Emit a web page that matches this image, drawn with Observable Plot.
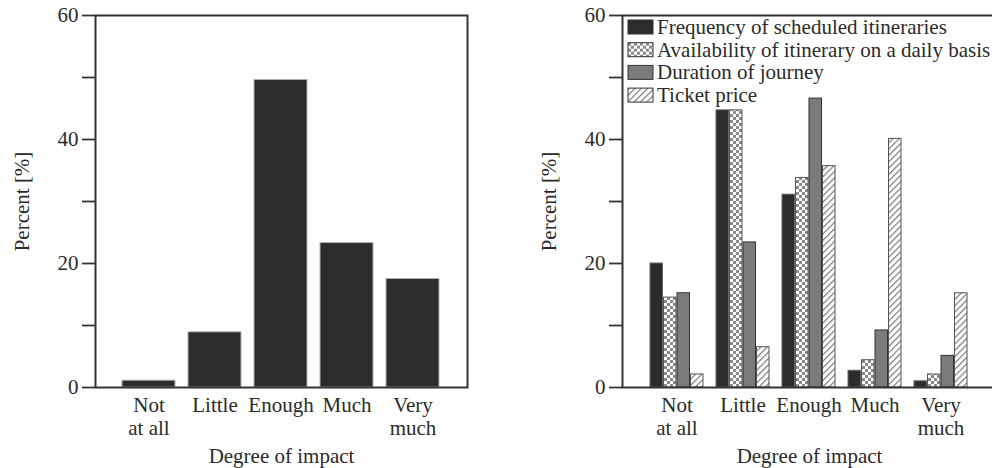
<!DOCTYPE html>
<html><head><meta charset="utf-8">
<script src="https://cdn.jsdelivr.net/npm/d3@7"></script>
<script src="https://cdn.jsdelivr.net/npm/@observablehq/plot@0.6"></script>
<style>
html,body{margin:0;padding:0;background:#fff;overflow:hidden;}
#wrap{position:relative;width:992px;height:468px;overflow:hidden;}
#left{position:absolute;left:0;top:0;width:496px;}
#right{position:absolute;left:496px;top:0;width:504px;}
</style></head><body>
<svg width="0" height="0" style="position:absolute">
<defs>
<pattern id="cross" width="6" height="6" patternUnits="userSpaceOnUse">
<rect width="6" height="6" fill="#fff"/>
<rect width="3" height="3" fill="#8a8a8a"/>
<rect x="3" y="3" width="3" height="3" fill="#8a8a8a"/>
</pattern>
<pattern id="hatch" width="4.5" height="4.5" patternUnits="userSpaceOnUse" patternTransform="rotate(45)">
<rect width="4.5" height="4.5" fill="#fff"/>
<line x1="0.6" y1="0" x2="0.6" y2="4.5" stroke="#7a7a7a" stroke-width="1.2"/>
</pattern>
</defs></svg>
<div id="wrap"><div id="left"></div><div id="right"></div></div>
<script>
const categories = ["Not\nat all", "Little", "Enough", "Much", "Very\nmuch"];
const overallValues = [1.1, 8.9, 49.6, 23.3, 17.5];
const seriesNames = ["Frequency of scheduled itineraries", "Availability of itinerary on a daily basis", "Duration of journey", "Ticket price"];
const frequencyValues = [20.0, 44.7, 31.1, 2.7, 1.0];
const availabilityValues = [14.5, 44.7, 33.8, 4.4, 2.1];
const durationValues = [15.2, 23.4, 46.6, 9.2, 5.1];
const ticketValues = [2.1, 6.5, 35.7, 40.1, 15.2];
const yTicks = [0, 10, 20, 30, 40, 50, 60];
const yTickLabels = ["0", "", "20", "", "40", "", "60"];
const xLabel = "Degree of impact";
const yLabel = "Percent [%]";

const seriesFills = ["#2c2c2c", "url(#cross)", "#7b7b7e", "url(#hatch)"];
const seriesStrokes = ["#666", "#555", "#333", "#555"];
const FONT = "'Liberation Serif', 'Times New Roman', serif";
const style = {fontFamily: FONT, fontSize: "21px", color: "#2b2b2b", background: "#fff", overflow: "visible", maxWidth: "none"};
const ink = "#333";

const leftData = categories.map((c, i) => ({category: c, value: overallValues[i]}));
const seriesValues = [frequencyValues, availabilityValues, durationValues, ticketValues];

const yAxisOpts = {
  ticks: yTicks,
  tickFormat: d => yTickLabels[yTicks.indexOf(d)],
  tickSize: 13, tickPadding: 4, stroke: ink, strokeWidth: 1.8,
  label: yLabel, labelAnchor: "center", labelOffset: 81, labelArrow: "none"
};
const xAxisOpts = {tickSize: 0, tickPadding: 8, lineHeight: 1.1, label: xLabel, labelAnchor: "center", labelOffset: 75};
const bandOpts = {type: "band", domain: categories, paddingInner: 0.19, paddingOuter: 0.4};
const H = {height: 468, marginTop: 15, marginBottom: 81};

const left = Plot.plot({
  width: 496, ...H,
  marginLeft: 95, marginRight: 29,
  style,
  x: bandOpts,
  y: {domain: [0, 60]},
  marks: [
    Plot.barY(leftData, {x: "category", y: "value", fill: "#2c2c2c", stroke: "#b0b0b0", strokeWidth: 1}),
    Plot.frame({stroke: ink, strokeWidth: 2}),
    Plot.axisY(yAxisOpts),
    Plot.axisX(xAxisOpts)
  ]
});
document.getElementById("left").appendChild(left);

// right chart: grouped bars, each series occupies a quarter of the category band
const R = {width: 504, marginLeft: 126, marginRight: 4};
const xRight = Plot.scale({x: {...bandOpts, range: [R.marginLeft, R.width - R.marginRight]}});
const subWidth = xRight.bandwidth / seriesNames.length;

const seriesMarks = seriesNames.map((s, j) =>
  Plot.barY(categories.map((c, i) => ({category: c, series: s, value: seriesValues[j][i]})), {
    x: "category", y: "value",
    insetLeft: j * subWidth, insetRight: (seriesNames.length - 1 - j) * subWidth,
    fill: seriesFills[j], stroke: seriesStrokes[j], strokeWidth: 1
  })
);

const right = Plot.plot({
  width: R.width, ...H,
  marginLeft: R.marginLeft, marginRight: R.marginRight,
  style,
  x: bandOpts,
  y: {domain: [0, 60]},
  marks: [
    ...seriesMarks,
    Plot.frame({stroke: ink, strokeWidth: 2}),
    Plot.axisY(yAxisOpts),
    Plot.axisX(xAxisOpts)
  ]
});
document.getElementById("right").appendChild(right);

// legend inside the right plot area
const lg = d3.select(right).append("g")
  .attr("transform", `translate(${R.marginLeft + 6},20)`);
seriesNames.forEach((s, j) => {
  const row = lg.append("g").attr("transform", `translate(0,${j * 22.7})`);
  row.append("rect").attr("width", 25).attr("height", 14).attr("fill", seriesFills[j]).attr("stroke", "#333").attr("stroke-width", 1);
  row.append("text").attr("x", 29).attr("y", 14)
    .style("font-family", FONT).style("font-size", "21px").style("fill", "#2b2b2b").style("text-anchor", "start")
    .text(s);
});
</script>
</body></html>
